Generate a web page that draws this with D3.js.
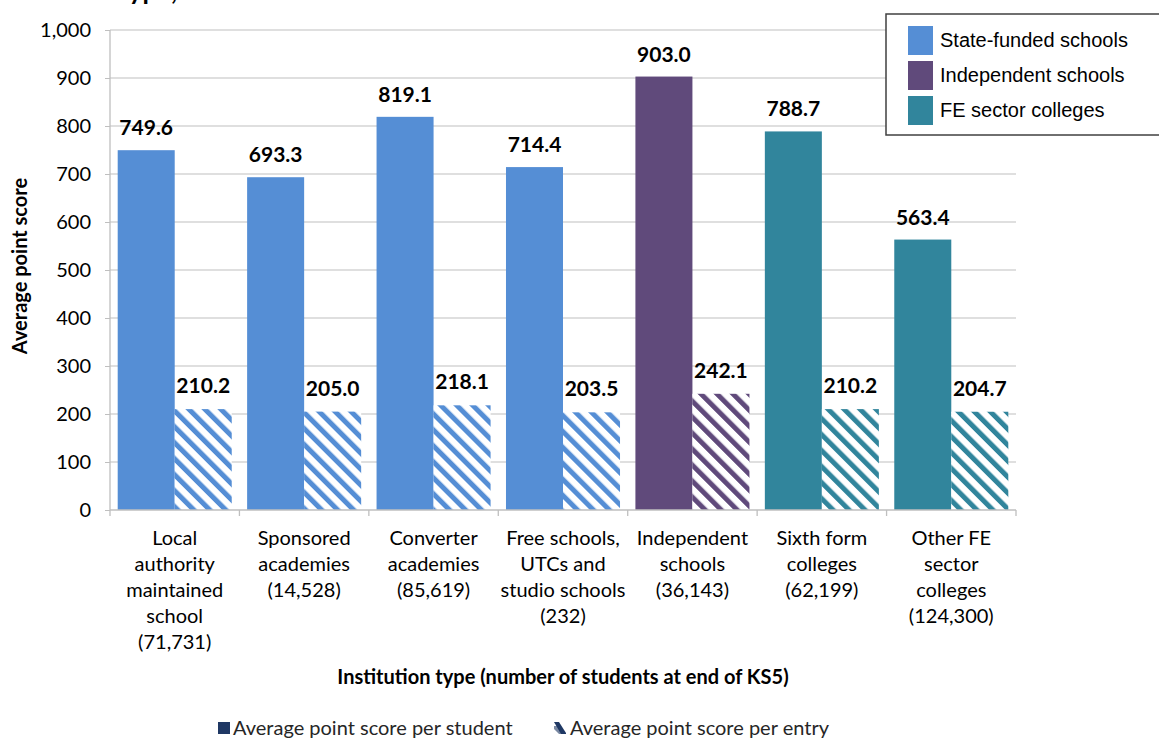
<!DOCTYPE html>
<html><head><meta charset="utf-8">
<script src="https://cdn.jsdelivr.net/npm/d3@7"></script>
<style>body{margin:0;background:#fff;} svg{display:block;}</style>
</head><body>
<svg id="c" width="1159" height="740"></svg>
<script>
const categories = [
  ["Local","authority","maintained","school","(71,731)"],
  ["Sponsored","academies","(14,528)"],
  ["Converter","academies","(85,619)"],
  ["Free schools,","UTCs and","studio schools","(232)"],
  ["Independent","schools","(36,143)"],
  ["Sixth form","colleges","(62,199)"],
  ["Other FE","sector","colleges","(124,300)"]
];
const perStudent = [749.6, 693.3, 819.1, 714.4, 903.0, 788.7, 563.4];
const perEntry   = [210.2, 205.0, 218.1, 203.5, 242.1, 210.2, 204.7];
const sectorOf   = [0, 0, 0, 0, 1, 2, 2];
const sectors    = ["State-funded schools", "Independent schools", "FE sector colleges"];
const sectorColors = ["#558ED5", "#604A7B", "#31859C"];
const yTicks = [0,100,200,300,400,500,600,700,800,900,1000];
const seriesNames = ["Average point score per student", "Average point score per entry"];

const svg = d3.select("#c");
const F = "Lato, 'Open Sans', sans-serif";
const pL = 110, pR = 1016, pT = 30, pB = 510;

const x = d3.scaleBand().domain(d3.range(categories.length)).range([pL, pR]).paddingInner(0).paddingOuter(0);
const inner = d3.scaleBand().domain([0,1]).range([0, x.bandwidth()]).paddingOuter(0.135).paddingInner(0);
const y = d3.scaleLinear().domain([0,1000]).range([pB, pT]);

// patterns
const defs = svg.append("defs");
sectorColors.forEach((c,i)=>{
  const p = defs.append("pattern").attr("id","h"+i).attr("patternUnits","userSpaceOnUse")
    .attr("width",11.3).attr("height",11.3).attr("patternTransform","rotate(-45)");
  p.append("rect").attr("width",11.3).attr("height",11.3).attr("fill","#fff");
  p.append("rect").attr("width",5).attr("height",11.3).attr("fill",c);
});

// title (cut off at top in the reference)
svg.append("text").attr("x",119).attr("y",0).attr("font-family",F).attr("font-weight","bold")
  .attr("font-size",26).attr("fill","#000").text("type, 2016");

// gridlines
svg.append("g").selectAll("line").data(yTicks.filter(d=>d>0)).join("line")
  .attr("x1",pL).attr("x2",pR).attr("y1",d=>y(d)).attr("y2",d=>y(d))
  .attr("stroke","#d4d4d4").attr("stroke-width",1.3);

// y axis
const ya = svg.append("g").attr("transform",`translate(${pL},0)`)
  .call(d3.axisLeft(y).tickValues(yTicks).tickSize(5).tickPadding(14).tickFormat(d3.format(",")));
ya.select(".domain").attr("stroke","#bfbfbf").attr("stroke-width",1.3).attr("d",`M0,${pB}V${pT}`);
ya.selectAll(".tick line").attr("stroke","#bfbfbf");
ya.selectAll("text").attr("font-family",F).attr("font-size",20).attr("fill","#000");

// bars
const g = svg.append("g");
categories.forEach((c,i)=>{
  const x0 = x(i);
  g.append("rect").attr("x",x0+inner(0)).attr("width",inner.bandwidth())
    .attr("y",y(perStudent[i])).attr("height",y(0)-y(perStudent[i])).attr("fill",sectorColors[sectorOf[i]]);
  g.append("rect").attr("x",x0+inner(1)).attr("width",inner.bandwidth())
    .attr("y",y(perEntry[i])).attr("height",y(0)-y(perEntry[i])).attr("fill",`url(#h${sectorOf[i]})`);
  g.append("text").attr("x",x0+inner(0)+inner.bandwidth()/2).attr("y",y(perStudent[i])-15)
    .attr("text-anchor","middle").attr("font-family",F).attr("font-weight","bold").attr("font-size",21)
    .text(perStudent[i].toFixed(1));
  g.append("text").attr("x",x0+inner(1)+inner.bandwidth()/2).attr("y",y(perEntry[i])-16)
    .attr("text-anchor","middle").attr("font-family",F).attr("font-weight","bold").attr("font-size",21)
    .text(perEntry[i].toFixed(1));
});

// x axis
const xa = svg.append("g").attr("transform",`translate(0,${pB})`);
xa.append("line").attr("x1",pL).attr("x2",pR).attr("stroke","#bfbfbf").attr("stroke-width",1.3);
xa.selectAll(".tk").data(d3.range(categories.length+1)).join("line").attr("class","tk")
  .attr("x1",d=>pL+d*x.bandwidth()).attr("x2",d=>pL+d*x.bandwidth()).attr("y1",0).attr("y2",6)
  .attr("stroke","#bfbfbf").attr("stroke-width",1.3);
categories.forEach((lines,i)=>{
  const t = xa.append("text").attr("text-anchor","middle").attr("font-family",F).attr("font-size",20).attr("fill","#000");
  lines.forEach((l,j)=>t.append("tspan").attr("x",x(i)+x.bandwidth()/2).attr("y",35+j*26).text(l));
});

// axis titles
svg.append("text").attr("transform","translate(27,266) rotate(-90)").attr("text-anchor","middle")
  .attr("font-family",F).attr("font-weight","bold").attr("font-size",20).text("Average point score");
svg.append("text").attr("x",563).attr("y",684).attr("text-anchor","middle")
  .attr("font-family",F).attr("font-weight","bold").attr("font-size",20)
  .text("Institution type (number of students at end of KS5)");

// top-right legend
const lg = svg.append("g");
lg.append("rect").attr("x",886).attr("y",14).attr("width",290).attr("height",121)
  .attr("fill","#fff").attr("stroke","#404040").attr("stroke-width",1.5);
sectors.forEach((s,i)=>{
  lg.append("rect").attr("x",908).attr("y",26+i*35).attr("width",25).attr("height",29).attr("fill",sectorColors[i]);
  lg.append("text").attr("x",940).attr("y",47+i*35).attr("font-family","'Liberation Sans', Arial, sans-serif")
    .attr("font-size",20).attr("fill","#000").text(s);
});

// bottom legend
const bl = svg.append("g");
bl.append("rect").attr("x",218).attr("y",722).attr("width",12).attr("height",12).attr("fill","#1F3864");
bl.append("text").attr("x",233).attr("y",735).attr("font-family",F).attr("font-size",20).attr("fill","#262626").text(seriesNames[0]);
bl.append("path").attr("d","M554,722 L559,722 L566,733 L566,734 L561,734 Z").attr("fill","#1F3864");
bl.append("path").attr("d","M554,726 L557,726 L562,734 L559,734 L554,729 Z").attr("fill","#1F3864").attr("opacity",0.6);
bl.append("text").attr("x",570).attr("y",735).attr("font-family",F).attr("font-size",20).attr("fill","#262626").text(seriesNames[1]);
</script>
</body></html>
